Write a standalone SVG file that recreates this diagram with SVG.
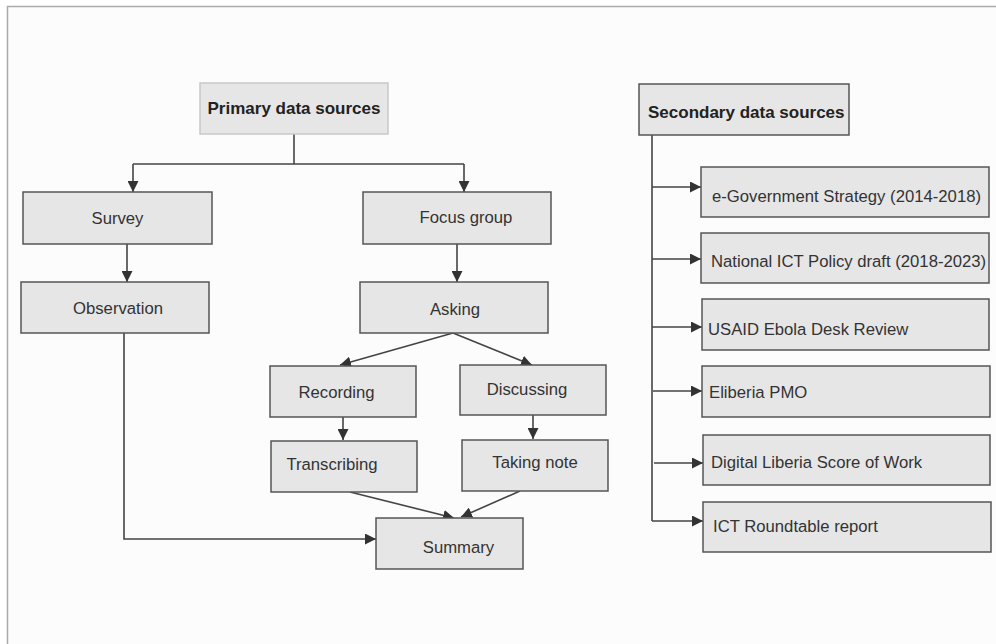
<svg xmlns="http://www.w3.org/2000/svg" width="996" height="644" viewBox="0 0 996 644">
<defs>
<marker id="ah" viewBox="0 0 10 10" refX="10" refY="5" markerWidth="11" markerHeight="11" markerUnits="userSpaceOnUse" orient="auto">
<path d="M0,0 L10,5 L0,10 z" fill="#333"/>
</marker>
</defs>
<style>
.box{fill:#e6e6e6;stroke:#555;stroke-width:1.5}
.hbox{fill:#e6e6e6;stroke:#c8c8c8;stroke-width:1.5}
.t{font-family:"Liberation Sans",Arial,sans-serif;font-size:16.7px;fill:#333}
.tb{font-family:"Liberation Sans",Arial,sans-serif;font-size:17px;font-weight:bold;fill:#222}
.c{text-anchor:middle}
.ln{fill:none;stroke:#444;stroke-width:1.6}
.ar{fill:none;stroke:#444;stroke-width:1.6;marker-end:url(#ah)}
</style>
<rect x="0" y="0" width="996" height="644" fill="#ffffff"/>
<path d="M7.5,644 V6.5 H996 V644 Z" fill="#fcfcfc"/>
<path d="M7.5,644 V6.5 H996" fill="none" stroke="#aaa" stroke-width="1.5"/>

<g id="connectors">
<path class="ln" d="M294,134 V164"/>
<path class="ln" d="M133,164 H464"/>
<path class="ar" d="M133,164 V192"/>
<path class="ar" d="M464,164 V192"/>
<path class="ar" d="M127,244 V282"/>
<path class="ar" d="M457,244 V282"/>
<path class="ar" d="M453,333 L340,365"/>
<path class="ar" d="M453,333 L532,365"/>
<path class="ar" d="M343,417 V440"/>
<path class="ar" d="M533,415 V439"/>
<path class="ar" d="M350,492 L454,518"/>
<path class="ar" d="M520,491 L461,517"/>
<path class="ar" d="M124,333 V539 H376"/>
<path class="ln" d="M652,135 V521"/>
<path class="ar" d="M652,187 H701"/>
<path class="ar" d="M652,259 H701"/>
<path class="ar" d="M652,327 H702"/>
<path class="ar" d="M653,391 H702"/>
<path class="ar" d="M654,463 H703"/>
<path class="ar" d="M652,521 H703"/>
</g>

<g id="primary"><rect class="hbox" x="200" y="83" width="188" height="51"/><text class="tb c" x="294" y="114">Primary data sources</text></g>
<g id="survey"><rect class="box" x="23" y="192" width="189" height="52"/><text class="t c" x="117.5" y="223.5">Survey</text></g>
<g id="observation"><rect class="box" x="21" y="282" width="188" height="51"/><text class="t c" x="118" y="313.5">Observation</text></g>
<g id="focus-group"><rect class="box" x="363" y="192" width="188" height="52"/><text class="t c" x="466" y="222.5">Focus group</text></g>
<g id="asking"><rect class="box" x="360" y="282" width="188" height="51"/><text class="t c" x="455" y="315">Asking</text></g>
<g id="recording"><rect class="box" x="270" y="366" width="146" height="51"/><text class="t c" x="336.5" y="398">Recording</text></g>
<g id="discussing"><rect class="box" x="460" y="365" width="146" height="50"/><text class="t c" x="527" y="395">Discussing</text></g>
<g id="transcribing"><rect class="box" x="271" y="441" width="146" height="51"/><text class="t c" x="332" y="470">Transcribing</text></g>
<g id="taking-note"><rect class="box" x="462" y="440" width="146" height="51"/><text class="t c" x="535" y="468">Taking note</text></g>
<g id="summary"><rect class="box" x="376" y="518" width="147" height="51"/><text class="t c" x="458.5" y="553">Summary</text></g>

<g id="secondary"><rect class="box" x="639" y="84" width="210" height="51"/><text class="tb" x="648" y="118">Secondary data sources</text></g>
<g id="egov"><rect class="box" x="701" y="167" width="288" height="50"/><text class="t" x="712" y="202">e-Government Strategy (2014-2018)</text></g>
<g id="national-ict"><rect class="box" x="701" y="233" width="288" height="50"/><text class="t" x="711" y="267">National ICT Policy draft (2018-2023)</text></g>
<g id="usaid"><rect class="box" x="702" y="299" width="287" height="51"/><text class="t" x="708" y="335">USAID Ebola Desk Review</text></g>
<g id="eliberia"><rect class="box" x="702" y="366" width="288" height="51"/><text class="t" x="709" y="398">Eliberia PMO</text></g>
<g id="digital-liberia"><rect class="box" x="703" y="435" width="287" height="50"/><text class="t" x="711" y="468">Digital Liberia Score of Work</text></g>
<g id="ict-roundtable"><rect class="box" x="703" y="502" width="288" height="50"/><text class="t" x="713" y="532">ICT Roundtable report</text></g>
</svg>
